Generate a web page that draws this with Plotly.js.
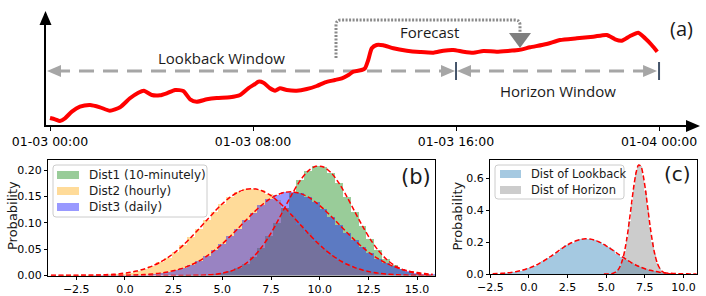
<!DOCTYPE html>
<html><head><meta charset="utf-8">
<script src="https://cdn.plot.ly/plotly-3.0.1.min.js"></script>
<style>html,body{margin:0;padding:0;background:#fff;}#chart{width:706px;height:296px;}</style>
</head><body><div id="chart"></div>
<script>
// ---------- Panel (a): time series ----------
const timeHours = [0.00,0.20,0.39,0.59,0.86,1.18,1.58,1.97,2.36,2.76,3.15,3.48,3.70,4.01,4.33,4.60,4.93,5.25,5.52,5.78,6.18,6.57,7.09,7.49,7.81,8.08,8.21,8.41,8.67,8.87,9.06,9.33,9.72,10.12,10.51,10.84,11.23,11.50,11.76,11.95,12.28,12.41,12.54,12.68,12.87,13.13,13.53,14.06,14.58,15.11,15.50,15.89,16.29,16.68,17.08,17.60,18.13,18.46,18.92,19.57,20.10,20.76,21.41,21.94,22.27,22.53,22.86,23.18,23.45,23.71,23.93];
const signal = [7,5.7,4,6.7,13.3,18.3,20,17.7,14.3,17.7,26.7,32.3,34.3,30,29.7,31.7,35,34,25.7,23.3,25.7,27,27.7,30,36.7,41,43.3,42.3,36.7,34.3,36.7,35,34.3,36,39,42.7,45,46.7,50,53.3,55,56.7,65,76.7,80,79.7,76.7,74.3,73,72.3,74.3,75,73.3,72.3,74,73.3,74.3,75,77.7,81,85,86.7,88.3,90,85.7,84.3,89,92.3,86.7,80,73.3];
const timeTickVals = [0, 8, 16, 24];
const timeTickText = ['01-03 00:00', '01-03 08:00', '01-03 16:00', '01-04 00:00'];
const lookbackWindow = [0, 16];
const horizonWindow = [16, 24];

// ---------- Panel (b): three distributions ----------
const binsB = [-3.8,-3.4,-3.0,-2.6,-2.2,-1.8,-1.4,-1.0,-0.6,-0.2,0.2,0.6,1.0,1.4,1.8,2.2,2.6,3.0,3.4,3.8,4.2,4.6,5.0,5.4,5.8,6.2,6.6,7.0,7.4,7.8,8.2,8.6,9.0,9.4,9.8,10.2,10.6,11.0,11.4,11.8,12.2,12.6,13.0,13.4,13.8,14.2,14.6,15.0,15.4,15.8];
const dist1 = [0,0,0,0,0,0,0,0,0,0,0,0,0,0,0,0,0,0.0001,0.0002,0.0005,0.0011,0.0023,0.0044,0.0079,0.0137,0.0226,0.0354,0.0527,0.0745,0.1003,0.1283,0.1560,0.1804,0.1983,0.2073,0.2060,0.1946,0.1748,0.1493,0.1212,0.0936,0.0687,0.0479,0.0318,0.0201,0.0120,0.0069,0.0037,0.0019,0.0009];
const dist2 = [0,0,0.0001,0.0001,0.0003,0.0005,0.0008,0.0014,0.0022,0.0036,0.0056,0.0084,0.0125,0.0179,0.0250,0.0340,0.0450,0.0579,0.0726,0.0885,0.1050,0.1212,0.1361,0.1487,0.1581,0.1636,0.1648,0.1614,0.1539,0.1427,0.1288,0.1132,0.0967,0.0804,0.0651,0.0512,0.0392,0.0293,0.0213,0.0150,0.0103,0.0069,0.0045,0.0028,0.0017,0.0010,0.0006,0.0003,0.0002,0.0001];
const dist3 = [0,0,0,0,0,0,0.0001,0.0001,0.0002,0.0004,0.0007,0.0011,0.0018,0.0029,0.0045,0.0068,0.0100,0.0144,0.0202,0.0275,0.0367,0.0476,0.0601,0.0742,0.0892,0.1045,0.1194,0.1330,0.1444,0.1529,0.1579,0.1589,0.1559,0.1491,0.1390,0.1264,0.1120,0.0968,0.0816,0.0670,0.0536,0.0419,0.0319,0.0236,0.0171,0.0121,0.0083,0.0056,0.0036,0.0023];
const namesB = ['Dist1 (10-minutely)', 'Dist2 (hourly)', 'Dist3 (daily)'];
const ticksB = [-2.5, 0, 2.5, 5, 7.5, 10, 12.5, 15];
const yTicksB = [0, 0.05, 0.10, 0.15, 0.20];

// ---------- Panel (c): lookback vs horizon ----------
const binsLookback = [-2.35,-2.05,-1.75,-1.45,-1.15,-0.85,-0.55,-0.25,0.05,0.35,0.65,0.95,1.25,1.55,1.85,2.15,2.45,2.75,3.05,3.35,3.65,3.95,4.25,4.55,4.85,5.15,5.45,5.75,6.05,6.35,6.65,6.95,7.25,7.55,7.85,8.15,8.45,8.75,9.05,9.35,9.65,9.95,10.25,10.55,10.85];
const distLookback = [0.0018,0.0028,0.0044,0.0067,0.0100,0.0145,0.0205,0.0283,0.0381,0.0503,0.0648,0.0814,0.0999,0.1198,0.1403,0.1604,0.1791,0.1954,0.2081,0.2165,0.2199,0.2182,0.2114,0.2001,0.1849,0.1668,0.1471,0.1266,0.1064,0.0874,0.0700,0.0549,0.0420,0.0313,0.0228,0.0163,0.0113,0.0077,0.0051,0.0033,0.0021,0.0013,0.0008,0.0005,0.0003];
const binsHorizon = [4.85,5.0,5.15,5.3,5.45,5.6,5.75,5.9,6.05,6.2,6.35,6.5,6.65,6.8,6.95,7.1,7.25,7.4,7.55,7.7,7.85,8.0,8.15,8.3,8.45,8.6,8.75,8.9,9.05,9.2,9.35];
const distHorizon = [0.0001,0.0002,0.0007,0.0019,0.0048,0.0111,0.0238,0.0470,0.0860,0.1458,0.2287,0.3320,0.4462,0.5553,0.6396,0.6821,0.6734,0.6154,0.5207,0.4078,0.2957,0.1984,0.1233,0.0710,0.0377,0.0186,0.0085,0.0036,0.0014,0.0005,0.0002];
const namesC = ['Dist of Lookback', 'Dist of Horizon'];
const ticksC = [-2.5, 0, 2.5, 5, 7.5, 10];
const yTicksC = [0, 0.2, 0.4, 0.6];

// ---------- layout geometry (pixels) ----------
const W = 706, H = 296;
const px = x => x / W;
const py = y => (H - y) / H;
const A = {x0: 46, x1: 690, y0: 125, y1: 14, r0: -0.158, r1: 25.22, v1: 111};
const hourPx = h => A.x0 + (h - A.r0) / (A.r1 - A.r0) * (A.x1 - A.x0);

const colB = ['rgba(0,128,0,0.4)', 'rgba(255,165,0,0.4)', 'rgba(0,0,255,0.4)'];
const colC = ['rgba(31,119,180,0.4)', 'rgba(128,128,128,0.4)'];
const FONT = 'DejaVu Sans';
const TFONT = 'Open Sans';

function rr(x0, y0, x1, y1, r) {
  return `M ${px(x0+r)},${py(y0)} L ${px(x1-r)},${py(y0)} Q ${px(x1)},${py(y0)} ${px(x1)},${py(y0+r)} ` +
         `L ${px(x1)},${py(y1-r)} Q ${px(x1)},${py(y1)} ${px(x1-r)},${py(y1)} L ${px(x0+r)},${py(y1)} ` +
         `Q ${px(x0)},${py(y1)} ${px(x0)},${py(y1-r)} L ${px(x0)},${py(y0+r)} Q ${px(x0)},${py(y0)} ${px(x0+r)},${py(y0)} Z`;
}
function tri(tipX, tipY, dir, len, half) {
  const bx = tipX - dir * len;
  return `M ${px(tipX)},${py(tipY)} L ${px(bx)},${py(tipY-half)} L ${px(bx)},${py(tipY+half)} Z`;
}
function paperLine(x0, y0, x1, y1, color, width, dash) {
  return {type: 'line', xref: 'paper', yref: 'paper', x0: px(x0), y0: py(y0), x1: px(x1), y1: py(y1),
          line: {color: color, width: width, dash: dash || 'solid'}, layer: 'below'};
}
function paperPath(path, fill, layer) {
  return {type: 'path', xref: 'paper', yref: 'paper', path: path, fillcolor: fill, line: {width: 0}, layer: layer || 'above'};
}

// ---------- traces ----------
const traces = [];
traces.push({type: 'scatter', mode: 'lines', x: timeHours, y: signal, xaxis: 'x', yaxis: 'y',
  line: {color: '#ff0000', width: 4, shape: 'spline', smoothing: 0.6}, hoverinfo: 'skip'});
[dist1, dist2, dist3].forEach((d, i) => traces.push({type: 'bar', x: binsB, y: d, width: 0.4, name: namesB[i],
  xaxis: 'x2', yaxis: 'y2', marker: {color: colB[i], line: {width: 0}}, hoverinfo: 'skip'}));
[dist1, dist2, dist3].forEach(d => traces.push({type: 'scatter', mode: 'lines', x: binsB, y: d, xaxis: 'x2', yaxis: 'y2',
  line: {color: '#ff0000', width: 1.5, dash: '5px,2.5px', shape: 'spline', smoothing: 0.8}, hoverinfo: 'skip'}));
traces.push({type: 'bar', x: binsLookback, y: distLookback, width: 0.3, name: namesC[0], xaxis: 'x3', yaxis: 'y3',
  marker: {color: colC[0], line: {width: 0}}, hoverinfo: 'skip'});
traces.push({type: 'bar', x: binsHorizon, y: distHorizon, width: 0.15, name: namesC[1], xaxis: 'x3', yaxis: 'y3',
  marker: {color: colC[1], line: {width: 0}}, hoverinfo: 'skip'});
[[binsLookback, distLookback], [binsHorizon, distHorizon]].forEach(p => traces.push({type: 'scatter', mode: 'lines',
  x: p[0], y: p[1], xaxis: 'x3', yaxis: 'y3',
  line: {color: '#ff0000', width: 1.5, dash: '5px,2.5px', shape: 'spline', smoothing: 0.8}, hoverinfo: 'skip'}));

// ---------- shapes ----------
const shapes = [];
const winY = 71;
const grayArrow = '#a6a6a6';
const lbL = hourPx(lookbackWindow[0]) - 3, lbR = hourPx(lookbackWindow[1]) - 1;
const hzL = hourPx(horizonWindow[0]) + 1, hzR = hourPx(horizonWindow[1]) - 2;
shapes.push(paperLine(lbL + 8, winY, lbR - 8, winY, grayArrow, 3, '15px,9px'));
shapes.push(paperLine(hzL + 8, winY, hzR - 8, winY, grayArrow, 3, '15px,9px'));
shapes.push(paperPath(tri(lbL, winY, -1, 14, 6), grayArrow, 'below'));
shapes.push(paperPath(tri(lbR, winY, 1, 14, 6), grayArrow, 'below'));
shapes.push(paperPath(tri(hzL, winY, -1, 14, 6), grayArrow, 'below'));
shapes.push(paperPath(tri(hzR, winY, 1, 14, 6), grayArrow, 'below'));
[horizonWindow[0], horizonWindow[1]].forEach(h => shapes.push(paperLine(hourPx(h), 62, hourPx(h), 80, '#44546a', 2)));
const fx0 = 336, fx1 = 520, fTop = 20;
shapes.push({type: 'path', xref: 'paper', yref: 'paper', layer: 'below',
  path: `M ${px(fx0)},${py(58)} L ${px(fx0)},${py(fTop+5)} Q ${px(fx0)},${py(fTop)} ${px(fx0+5)},${py(fTop)} L ${px(fx1-5)},${py(fTop)} Q ${px(fx1)},${py(fTop)} ${px(fx1)},${py(fTop+5)} L ${px(fx1)},${py(34)}`,
  line: {color: '#8a8a8a', width: 3, dash: '2px,1.5px'}});
shapes.push(paperPath(`M ${px(fx1-11)},${py(33)} L ${px(fx1+11)},${py(33)} L ${px(fx1)},${py(48)} Z`, '#7f7f7f', 'below'));
shapes.push(paperPath(`M ${px(39.5)},${py(25)} L ${px(51.5)},${py(25)} L ${px(45.5)},${py(11)} Z`, '#000'));
shapes.push(paperPath(`M ${px(686)},${py(120)} L ${px(686)},${py(132)} L ${px(700)},${py(126)} Z`, '#000'));
shapes.push({type: 'path', xref: 'paper', yref: 'paper', path: rr(53, 165, 207, 217, 3),
  fillcolor: 'rgba(255,255,255,0.8)', line: {color: '#cccccc', width: 1}, layer: 'above'});
const legYB = [175, 191, 207];
legYB.forEach((y, i) => shapes.push({type: 'rect', xref: 'paper', yref: 'paper', x0: px(57), x1: px(79), y0: py(y+4), y1: py(y-4),
  fillcolor: colB[i], line: {width: 0}, layer: 'above'}));
shapes.push({type: 'path', xref: 'paper', yref: 'paper', path: rr(495, 165, 624, 199, 3),
  fillcolor: 'rgba(255,255,255,0.8)', line: {color: '#cccccc', width: 1}, layer: 'above'});
const legYC = [174, 190];
legYC.forEach((y, i) => shapes.push({type: 'rect', xref: 'paper', yref: 'paper', x0: px(500), x1: px(521), y0: py(y+4), y1: py(y-4),
  fillcolor: colC[i], line: {width: 0}, layer: 'above'}));

// ---------- annotations ----------
function txt(text, x, y, size, family, extra) {
  return Object.assign({text: text, xref: 'paper', yref: 'paper', x: px(x), y: py(y), xanchor: 'center', yanchor: 'middle',
    showarrow: false, font: {family: family, size: size, color: '#1a1a1a'}}, extra || {});
}
const annotations = [
  txt('Lookback Window', 221.5, 57.5, 15, TFONT),
  txt('Forecast', 429, 32, 15, TFONT),
  txt('Horizon Window', 557.5, 91, 15, TFONT),
  txt('(a)', 681, 28, 20, TFONT),
  txt('(b)', 416, 176.5, 21, FONT),
  txt('(c)', 677.5, 174, 20, FONT),
  txt('Probability', 12, 216, 13, FONT, {textangle: -90}),
  txt('Probability', 456.5, 216, 13, FONT, {textangle: -90}),
];
namesB.forEach((n, i) => annotations.push(txt(n, 87, legYB[i], 12, FONT, {xanchor: 'left'})));
namesC.forEach((n, i) => annotations.push(txt(n, 529, legYC[i], 11.5, FONT, {xanchor: 'left'})));

// ---------- axes ----------
const boxAxis = {showline: true, mirror: true, linecolor: '#000', linewidth: 1, ticks: 'outside', ticklen: 3,
  tickwidth: 1, tickcolor: '#000', showgrid: false, zeroline: false, tickfont: {family: FONT, size: 11, color: '#000'}, fixedrange: true};

const layout = {
  width: W, height: H, margin: {l: 0, r: 0, t: 0, b: 0}, paper_bgcolor: '#fff', plot_bgcolor: 'rgba(0,0,0,0)',
  showlegend: false, barmode: 'overlay', bargap: 0, font: {family: FONT, color: '#000'},
  xaxis: {domain: [px(A.x0), px(A.x1)], range: [A.r0, A.r1], anchor: 'y', showline: true, linecolor: '#000', linewidth: 2,
    ticks: 'outside', ticklen: 4, tickwidth: 1, tickcolor: '#000', tickvals: timeTickVals, ticktext: timeTickText,
    tickfont: {family: FONT, size: 12.5, color: '#000'}, showgrid: false, zeroline: false, fixedrange: true},
  yaxis: {domain: [py(A.y0), py(A.y1)], range: [0, A.v1], anchor: 'x', showline: true, linecolor: '#000', linewidth: 2,
    showticklabels: false, ticks: '', showgrid: false, zeroline: false, fixedrange: true},
  xaxis2: Object.assign({}, boxAxis, {domain: [px(48), px(435)], range: [-3.95, 15.92], anchor: 'y2', tickvals: ticksB, tickformat: '.1f'}),
  yaxis2: Object.assign({}, boxAxis, {domain: [py(275.5), py(160)], range: [0, 0.2193], anchor: 'x2', tickvals: yTicksB, tickformat: '.2f'}),
  xaxis3: Object.assign({}, boxAxis, {domain: [px(490), px(697)], range: [-2.52, 10.88], anchor: 'y3', tickvals: ticksC, tickformat: '.1f'}),
  yaxis3: Object.assign({}, boxAxis, {domain: [py(274), py(160)], range: [0, 0.713], anchor: 'x3', tickvals: yTicksC, tickformat: '.1f'}),
  shapes: shapes, annotations: annotations
};

Plotly.newPlot('chart', traces, layout, {staticPlot: true, displayModeBar: false});
</script>
</body></html>
